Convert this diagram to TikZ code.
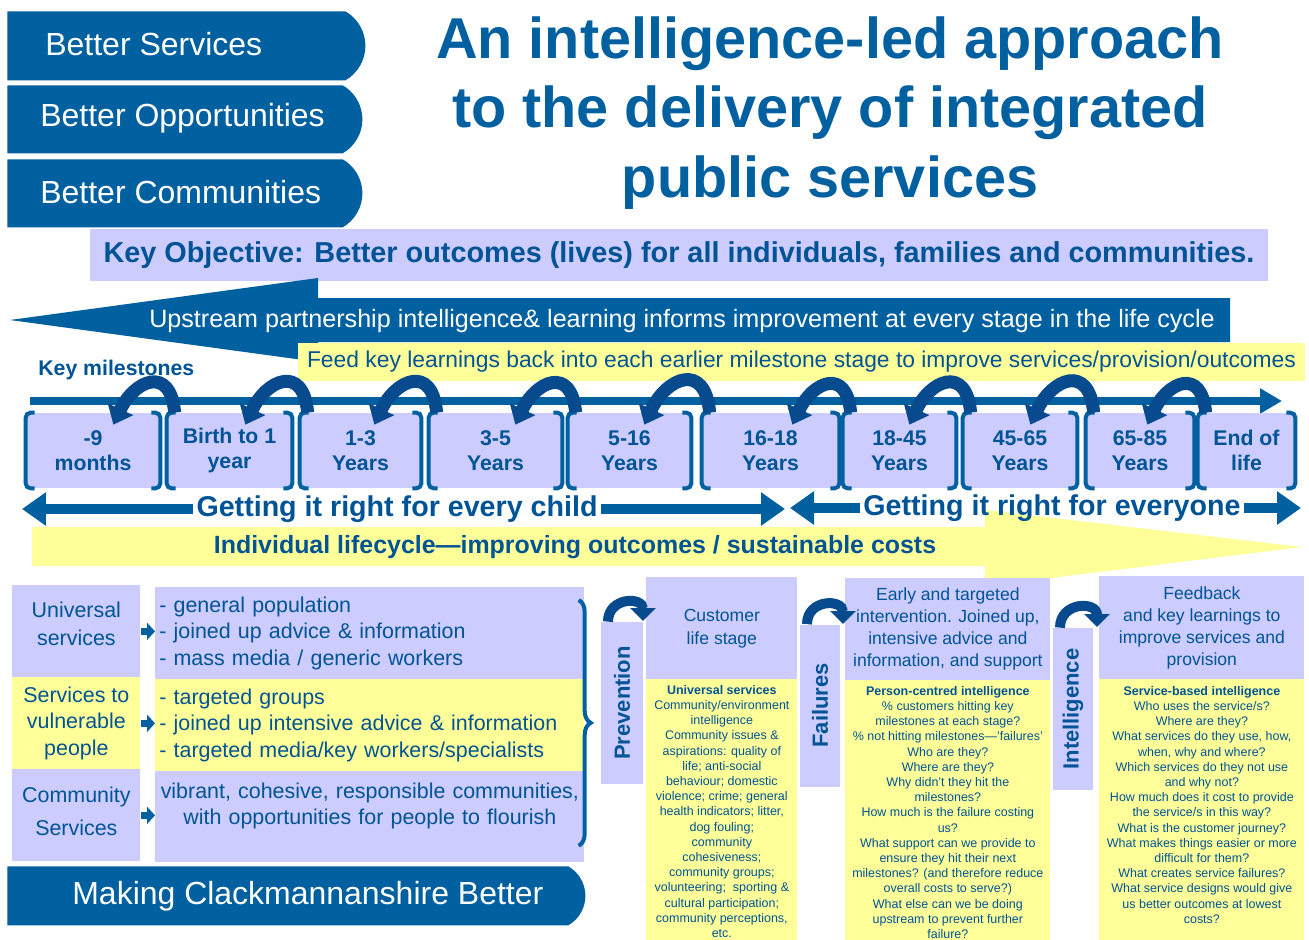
\documentclass[tikz,border=0pt]{standalone}
\usepackage{fontspec}
\setmainfont{Liberation Sans}
\usepackage{tikz}
\usetikzlibrary{shapes.misc,arrows.meta,positioning,decorations.pathreplacing}

\definecolor{dblue}{RGB}{0,96,160}
\definecolor{tblue}{RGB}{0,84,150}
\definecolor{hookblue}{RGB}{8,74,142}
\definecolor{lav}{RGB}{204,204,255}
\definecolor{yel}{RGB}{255,255,153}

\newdimen\px
\px=0.02cm
\newcommand{\fsz}[2]{\fontsize{#1}{#2}\selectfont}

\begin{document}
\begin{tikzpicture}[x=0.02cm, y=-0.02cm,
    tab/.style={rounded rectangle, rounded rectangle west arc=none, rounded rectangle arc length=120, fill=dblue, anchor=north west, inner sep=0pt},
    tabtext/.style={text=white, anchor=west, inner sep=0pt, font=\fsz{18.2}{22}},
    ttl/.style={text=dblue, align=center, font=\bfseries\fsz{32.8}{39.7}},
    ms/.style={fill=lav, minimum height=75\px, inner sep=0pt, align=center, text=tblue, font=\bfseries\fsz{12.1}{14.2}},
    brk/.style={draw=dblue, line width=4\px, rounded corners=5\px},
    curv/.style={draw=hookblue, line width=13\px, -{Triangle[width=0.54cm,length=0.34cm]}},
    tline/.style={draw=dblue, line width=8\px, -{Triangle[width=0.48cm,length=0.44cm]}},
    grt/.style={text=tblue, inner xsep=3\px, inner ysep=0pt, font=\bfseries\fsz{16.3}{19}},
    garrowl/.style={draw=dblue, line width=10\px, {Triangle[width=0.64cm,length=0.48cm]}-},
    garrowr/.style={draw=dblue, line width=10\px, -{Triangle[width=0.64cm,length=0.48cm]}},
    lbox/.style={anchor=north west, minimum width=128\px, inner sep=0pt, align=center, text=tblue, font=\fsz{12.2}{15}},
    rbox/.style={anchor=north west, text width=421\px, inner xsep=4\px, inner ysep=0pt, align=left, text=tblue, font=\fsz{12.2}{15}},
    sarrow/.style={draw=dblue, line width=7\px, -{Triangle[width=0.34cm,length=0.16cm]}},
    brc/.style={draw=dblue, line width=4\px, decorate, decoration={brace, amplitude=0.24cm}},
    vlab/.style={rotate=90, fill=lav, minimum width=162\px, minimum height=42\px, inner sep=0pt, text=tblue, font=\bfseries\fsz{12.5}{15}},
    hdr/.style={anchor=north west, fill=lav, inner sep=0pt, align=center, text=tblue, font=\fsz{10}{12.5}},
    infobox/.style={anchor=north west, fill=yel, minimum height=261\px, inner sep=0pt},
    infotext/.style={inner sep=0pt, align=center, text=tblue, font=\fsz{7.1}{8.65}},
    hook/.style={draw=hookblue, line width=10\px, -{Triangle[width=0.5cm,length=0.26cm]}}
]
\useasboundingbox (0,0) rectangle (1309,940);
\fill[white] (0,0) rectangle (1309,940);

% Tabs top left
\node[tab, minimum width=358\px, minimum height=69\px] (tbsvc) at (7,11) {};
\node[tabtext] (tbsvctx) at (45,44) {Better Services};
\node[tab, minimum width=355\px, minimum height=68\px] (tbopp) at (7,85) {};
\node[tabtext] (tbopptx) at (40,118) {Better Opportunities};
\node[tab, minimum width=355\px, minimum height=68\px] (tbcom) at (7,159) {};
\node[tabtext] (tbcomtx) at (40,192) {Better Communities};

% Title
\node[ttl] (title) at (830,113) {An intelligence-led approach\\to the delivery of integrated\\public services};

% Key objective
\node[fill=lav, minimum width=1178\px, minimum height=52\px, inner sep=0pt, text=tblue, font=\bfseries\fsz{16.4}{20}] (kobj) at (679,255) {Key Objective: Better outcomes (lives) for all individuals, families and communities.};

% Upstream arrow and feedback bar
\fill[dblue] (10,320) -- (318,278) -- (318,298) -- (1230,298) -- (1230,342) -- (318,342) -- (318,362) -- cycle;
\node[text=white, inner sep=0pt, font=\fsz{14.3}{17}] (upstr) at (682,321) {Upstream partnership intelligence\& learning informs improvement at every stage in the life cycle};
\node[fill=yel, minimum width=1007\px, minimum height=38\px, inner sep=0pt, text=tblue, font=\fsz{13}{16}] (feed) at (801.5,362) {Feed key learnings back into each earlier milestone stage to improve services/provision/outcomes};
\node[anchor=west, inner sep=0pt, text=tblue, font=\bfseries\fsz{12.1}{14}] (keyms) at (38,370) {Key milestones};

% Timeline
\coordinate (tla) at (30,401);
\coordinate (tlb) at (1282,401);
\draw[tline] (tla) -- (tlb);

% Milestones
\foreach \cx/\w/\nm/\lbl in {93/134/m1/{-9\\months}, 229.5/125/m2/{Birth to 1\\year}, 360.5/121/m3/{1-3\\Years},
    495.5/133/m4/{3-5\\Years}, 629.5/123/m5/{5-16\\Years}, 770.5/137/m6/{16-18\\Years}, 899.5/113/m7/{18-45\\Years},
    1020/114/m8/{45-65\\Years}, 1140/108/m9/{65-85\\Years}, 1246.5/97/m10/{End of\\life}} {
  \node[ms, minimum width=\w\px] (\nm) at (\cx,450.5) {\lbl};
  \draw[brk] ([xshift=9\px]\nm.north west) -- (\nm.north west) -- (\nm.south west) -- ([xshift=9\px]\nm.south west);
  \draw[brk] ([xshift=-9\px]\nm.north east) -- (\nm.north east) -- (\nm.south east) -- ([xshift=-9\px]\nm.south east);
}
\foreach \i [evaluate=\i as \j using int(\i+1)] in {1,...,9}
  \draw[curv] ([xshift=8\px]m\j.north west) to[out=95,in=65,looseness=2] ([xshift=-47\px,yshift=-12\px]m\i.north east);

% Yellow lifecycle arrow
\fill[yel] (32,527) -- (985,527) -- (985,510) -- (1302,547) -- (985,586) -- (985,566) -- (32,566) -- cycle;
\node[inner sep=0pt, text=tblue, font=\bfseries\fsz{14.2}{17}] (lifec) at (575,547) {Individual lifecycle—improving outcomes / sustainable costs};

% Getting it right
\node[grt] (gchild) at (397,509) {Getting it right for every child};
\coordinate (gca) at (22,509);
\coordinate (gcb) at (785,509);
\draw[garrowl] (gca) -- (gchild.west);
\draw[garrowr] (gchild.east) -- (gcb);
\node[grt] (gall) at (1052,508) {Getting it right for everyone};
\coordinate (gaa) at (790,508);
\coordinate (gab) at (1301,508);
\draw[garrowl] (gaa) -- (gall.west);
\draw[garrowr] (gall.east) -- (gab);

% Service levels
\node[lbox, fill=lav, minimum height=92\px, font=\fsz{12.2}{16}] (univ) at (12,585) {Universal\\services\\[-7pt]\mbox{}};
\node[lbox, fill=yel, minimum height=92\px] (vuln) at (12,677) {Services to\\vulnerable\\people};
\node[lbox, fill=lav, minimum height=92\px, font=\fsz{12.2}{18.7}] (comm) at (12,769) {Community\\Services\\[-14pt]\mbox{}};
\node[rbox, fill=lav, minimum height=92\px] (univr) at (155,587) {- general population\\- joined up advice \& information\\- mass media / generic workers};
\node[rbox, fill=yel, minimum height=92\px] (vulnr) at (155,679) {- targeted groups\\- joined up intensive advice \& information\\- targeted media/key workers/specialists};
\node[rbox, fill=lav, minimum height=91\px, align=center] (commr) at (155,771) {vibrant, cohesive, responsible communities,\\with opportunities for people to flourish\\\mbox{}};
\draw[sarrow] (univ.east) -- (univ.east -| univr.west);
\draw[sarrow] (vuln.east) -- (vuln.east -| vulnr.west);
\draw[sarrow] (comm.east) -- (comm.east -| commr.west);
\draw[brc] ([xshift=-6\px,yshift=-13\px]univr.north east) -- ([xshift=-6\px,yshift=17\px]commr.south east);

\node[tab, minimum width=578\px, minimum height=59\px] (mkcl) at (7,866) {};
\node[tabtext] (mkcltx) at (72,896) {Making Clackmannanshire Better};

% Intelligence columns
\node[vlab] (prev) at (622,703) {Prevention};
\node[vlab, minimum height=40\px] (fail) at (820,705.5) {Failures};
\node[vlab, minimum height=40\px] (intel) at (1073,709) {Intelligence};

\node[hdr, minimum width=151\px, minimum height=102\px, font=\fsz{10}{13}] (cust) at (646,577) {Customer\\life stage};
\node[hdr, minimum width=205\px, minimum height=102\px] (early) at (845,578) {Early and targeted\\intervention. Joined up,\\intensive advice and\\information, and support};
\node[hdr, minimum width=205\px, minimum height=103\px] (feedb) at (1099,576) {Feedback\\and key learnings to\\improve services and\\provision};

\node[infobox, minimum width=151\px] (custy) at (646,679) {};
\node[infotext, below=6\px of custy.north] (custtx) {\textbf{Universal services}\\Community/environment\\intelligence\\Community issues \&\\aspirations: quality of\\life; anti-social\\behaviour; domestic\\violence; crime; general\\health indicators; litter,\\dog fouling;\\community\\cohesiveness;\\community groups;\\volunteering;\ \ sporting \&\\cultural participation;\\community perceptions,\\etc.};
\node[infobox, minimum width=205\px] (earlyy) at (845,680) {};
\node[infotext, below=6\px of earlyy.north] (earlytx) {\textbf{Person-centred intelligence}\\\% customers hitting key\\milestones at each stage?\\\% not hitting milestones—'failures'\\Who are they?\\Where are they?\\Why didn't they hit the\\milestones?\\How much is the failure costing\\us?\\What support can we provide to\\ensure they hit their next\\milestones? (and therefore reduce\\overall costs to serve?)\\What else can we be doing\\upstream to prevent further\\failure?};
\node[infobox, minimum width=205\px] (feedy) at (1099,679) {};
\node[infotext, below=7\px of feedy.north] (feedtx) {\textbf{Service-based intelligence}\\Who uses the service/s?\\Where are they?\\What services do they use, how,\\when, why and where?\\Which services do they not use\\and why not?\\How much does it cost to provide\\the service/s in this way?\\What is the customer journey?\\What makes things easier or more\\difficult for them?\\What creates service failures?\\What service designs would give\\us better outcomes at lowest\\costs?};

\draw[hook] ([xshift=-14\px]prev.east) to[out=90,in=90,looseness=1.8] ([xshift=-3\px,yshift=-44\px]cust.north west);
\draw[hook] ([xshift=-13\px]fail.east) to[out=90,in=90,looseness=1.8] ([xshift=-2\px,yshift=-46\px]early.north west);
\draw[hook] ([xshift=-13\px]intel.east) to[out=90,in=90,looseness=1.8] ([xshift=-2\px,yshift=-51\px]feedb.north west);

\end{tikzpicture}
\end{document}
